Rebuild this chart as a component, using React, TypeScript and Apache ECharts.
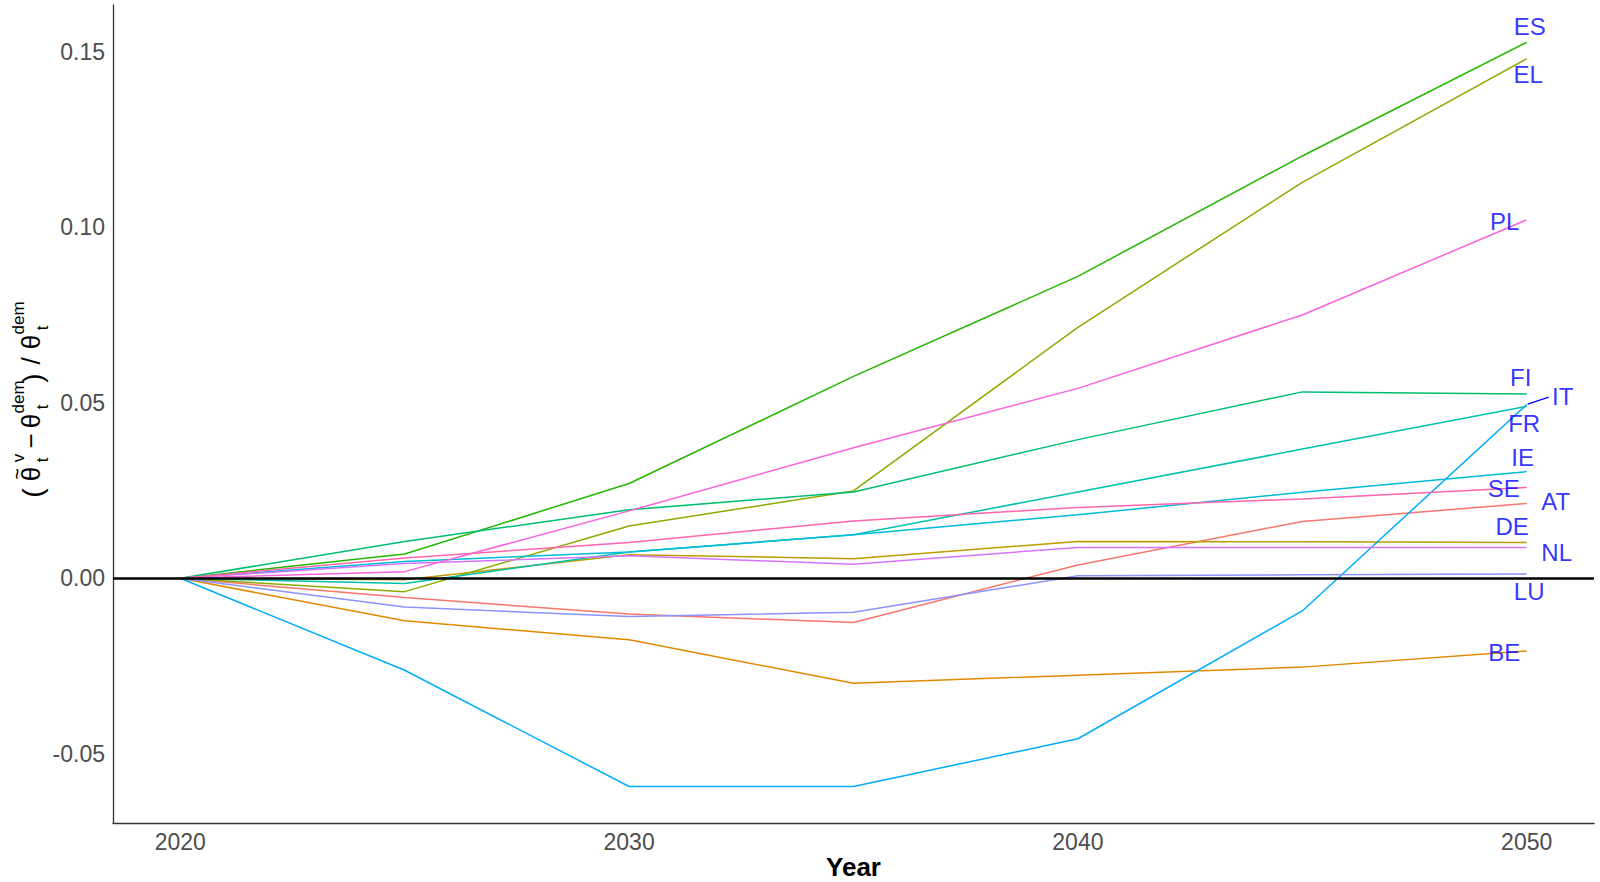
import React, { useEffect, useRef } from "react";
import * as echarts from "echarts";

const years = [2020, 2025, 2030, 2035, 2040, 2045, 2050];
const countries = ["AT", "BE", "DE", "EL", "ES", "FI", "FR", "IE", "IT", "LU", "NL", "PL", "SE"];

const AT = [0, -0.0055, -0.0102, -0.0126, 0.0038, 0.0162, 0.0213];
const BE = [0, -0.0121, -0.0175, -0.0299, -0.0276, -0.0253, -0.0207];
const DE = [0, -0.0004, 0.0067, 0.0056, 0.0105, 0.0104, 0.0102];
const EL = [0, -0.0038, 0.0149, 0.0249, 0.0715, 0.1128, 0.148];
const ES = [0, 0.0069, 0.027, 0.0575, 0.086, 0.1203, 0.1527];
const FI = [0, 0.0105, 0.0195, 0.0246, 0.0395, 0.0531, 0.0525];
const FR = [0, -0.0015, 0.0075, 0.0124, 0.0246, 0.0368, 0.049];
const IE = [0, 0.0048, 0.0075, 0.0124, 0.0181, 0.0245, 0.0304];
const IT = [0, -0.0262, -0.0593, -0.0593, -0.0457, -0.0093, 0.0495];
const LU = [0, -0.0082, -0.0109, -0.0097, 0.0007, 0.001, 0.0012];
const NL = [0, 0.0042, 0.0064, 0.004, 0.0088, 0.0088, 0.0088];
const PL = [0, 0.0019, 0.0192, 0.0372, 0.0541, 0.075, 0.1021];
const SE = [0, 0.0058, 0.0102, 0.0163, 0.0202, 0.0226, 0.0259];

const xTicks = [2020, 2030, 2040, 2050];
const yTicks = [-0.05, 0, 0.05, 0.1, 0.15];

const seriesValues: Record<string, number[]> = { AT, BE, DE, EL, ES, FI, FR, IE, IT, LU, NL, PL, SE };

const colors: Record<string, string> = {
  AT: "#F8766D",
  BE: "#E18A00",
  DE: "#BE9C00",
  EL: "#8CAB00",
  ES: "#24B700",
  FI: "#00BE70",
  FR: "#00C1AB",
  IE: "#00BBDA",
  IT: "#00ACFC",
  LU: "#8B93FF",
  NL: "#D575FE",
  PL: "#F962DD",
  SE: "#FF65AC",
};

// label offsets (pixels) relative to the 2050 end point, mimicking ggrepel placement
const labelOffsets: Record<string, [number, number]> = {
  ES: [3, -16],
  EL: [1.5, 16],
  PL: [-22, 2],
  FI: [-6, -16],
  IT: [36, -8],
  FR: [-2.5, 17],
  IE: [-4, -14],
  SE: [-23, 1],
  AT: [29, -2],
  DE: [-14.5, -16],
  NL: [30, 5],
  LU: [2.5, 17.5],
  BE: [-22.5, 2],
};

const FONT = "'Liberation Sans', Arial, sans-serif";

export default function App() {
  const ref = useRef<HTMLDivElement>(null);

  useEffect(() => {
    if (!ref.current) return;
    const chart = echarts.init(ref.current, undefined, { renderer: "svg" });

    const lineSeries = countries.map((c, idx) => {
      const s: any = {
        name: c,
        type: "line",
        data: years.map((y, i) => [y, seriesValues[c][i]]),
        showSymbol: false,
        symbol: "none",
        lineStyle: { color: colors[c], width: 1.5 },
        itemStyle: { color: colors[c] },
        silent: true,
        z: 2,
      };
      if (idx === countries.length - 1) {
        s.markLine = {
          silent: true,
          symbol: ["none", "none"],
          label: { show: false },
          lineStyle: { color: "#000", width: 2.6, type: "solid" },
          data: [{ yAxis: 0 }],
        };
      }
      return s;
    });

    const last = years.length - 1;
    const labelSeries = {
      type: "scatter",
      silent: true,
      symbolSize: 1,
      itemStyle: { color: "rgba(0,0,0,0)" },
      z: 5,
      data: countries.map((c) => ({
        value: [years[last], seriesValues[c][last]],
        label: {
          show: true,
          position: "inside",
          formatter: c,
          offset: labelOffsets[c],
          color: "#0000FF",
          fontSize: 24,
          fontFamily: FONT,
        },
      })),
    };

    chart.setOption({
      animation: false,
      backgroundColor: "#ffffff",
      grid: { left: 113, right: 6, top: 5, bottom: 59, containLabel: false },
      xAxis: {
        type: "value",
        min: 2018.5,
        max: 2051.5,
        axisLine: { show: true, onZero: false, lineStyle: { color: "#333333", width: 1.3 } },
        axisTick: { show: false },
        splitLine: { show: false },
        axisLabel: {
          customValues: xTicks,
          color: "#4D4D4D",
          fontSize: 23,
          fontFamily: FONT,
          margin: 7,
          formatter: (v: number) => String(v),
        },
      },
      yAxis: {
        type: "value",
        min: -0.0697,
        max: 0.1633,
        axisLine: { show: true, onZero: false, lineStyle: { color: "#333333", width: 1.3 } },
        axisTick: { show: false },
        splitLine: { show: false },
        axisLabel: {
          customValues: yTicks,
          color: "#4D4D4D",
          fontSize: 23,
          fontFamily: FONT,
          margin: 8,
          formatter: (v: number) => v.toFixed(2),
        },
      },
      series: [...lineSeries, labelSeries],
    });

    const itEnd = chart.convertToPixel({ xAxisIndex: 0, yAxisIndex: 0 }, [years[last], IT[last]]) as number[];

    const main = 26;
    const small = 17;
    const t = (text: string, x: number, y: number, size: number, extra: any = {}) => ({
      type: "text",
      x,
      y,
      style: {
        text,
        fontSize: size,
        fontFamily: FONT,
        fill: "#000",
        align: "center",
        verticalAlign: "middle",
        ...extra,
      },
    });

    const yTitle = {
      type: "group",
      x: 31,
      y: 404,
      rotation: Math.PI / 2,
      children: [
        t("(", -89, 1, 28),
        t("θ", -70, 0, main),
        t("~", -70, -14, 20),
        t("v", -54, -13, small),
        t("t", -56, 11, small),
        t("−", -37, 0, main),
        t("θ", -17, 0, main),
        t("dem", 7, -13, small),
        t("t", -3, 11, small),
        t(")", 26, 1, 28),
        t("/", 43, 0, main),
        t("θ", 62, 0, main),
        t("dem", 86, -13, small),
        t("t", 76, 11, small),
      ],
    };

    chart.setOption({
      graphic: [
        yTitle,
        {
          type: "text",
          x: 853.5,
          y: 867,
          style: {
            text: "Year",
            fontSize: 26,
            fontWeight: "bold",
            fontFamily: FONT,
            fill: "#000",
            align: "center",
            verticalAlign: "middle",
          },
        },
        {
          type: "line",
          shape: { x1: itEnd[0] + 1, y1: itEnd[1] - 0.5, x2: itEnd[0] + 22, y2: itEnd[1] - 7.5 },
          style: { stroke: "#0000FF", lineWidth: 1.3 },
          z: 10,
        },
      ],
    });

    return () => chart.dispose();
  }, []);

  return (
    <div
      ref={ref}
      style={{ position: "fixed", left: 0, top: 0, width: 1600, height: 882, background: "#fff" }}
    />
  );
}
